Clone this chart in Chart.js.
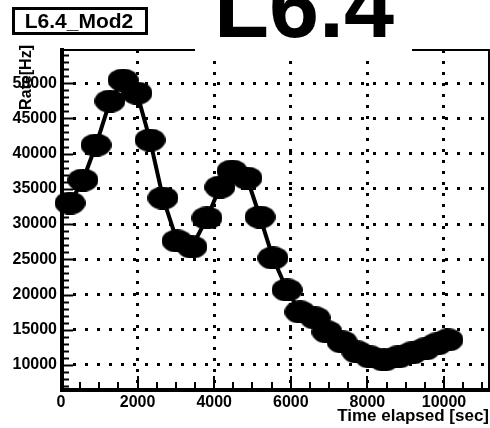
<!DOCTYPE html>
<html>
<head>
<meta charset="utf-8">
<script src="https://cdn.jsdelivr.net/npm/chart.js@4/dist/chart.umd.min.js"></script>
<style>
  html, body { margin: 0; padding: 0; background: #fff; }
  #wrap { width: 490px; height: 428px; }
</style>
</head>
<body>
<div id="wrap"><canvas id="rate" width="490" height="428"></canvas></div>
<script>
// values
const timeSec = [235, 574, 914, 1279, 1619, 1984, 2324, 2663, 3029, 3420,
  3812, 4151, 4465, 4856, 5196, 5535, 5901, 6240, 6632, 6945,
  7337, 7728, 8068, 8433, 8799, 9164, 9504, 9817, 10104];
const rateHz = [32980, 36245, 41210, 47450, 50430, 48580, 41920, 33690, 27600, 26750,
  30860, 35250, 37520, 36530, 31000, 25185, 20650, 17530, 16680, 14700,
  13280, 11860, 11150, 10720, 11150, 11710, 12280, 12990, 13560];

const xTicks = [0, 2000, 4000, 6000, 8000, 10000];
const yTicks = [10000, 15000, 20000, 25000, 30000, 35000, 40000, 45000, 50000];

const FONT = '"Liberation Sans", Arial, Helvetica, sans-serif';

// ROOT-like fat ellipse marker
function ellipseMarker(w, h) {
  const c = document.createElement('canvas');
  c.width = w;
  c.height = h;
  const g = c.getContext('2d');
  g.fillStyle = '#000';
  g.beginPath();
  g.ellipse(w / 2, h / 2, w / 2, h / 2, 0, 0, Math.PI * 2);
  g.fill();
  return c;
}

// frame, small ticks and the texts around the pad
const rootFrame = {
  id: 'rootFrame',
  afterDraw(chart) {
    const { ctx, chartArea: a, scales: { x, y } } = chart;
    ctx.save();
    ctx.strokeStyle = '#000';
    ctx.fillStyle = '#000';

    ctx.lineWidth = 2;
    ctx.beginPath();
    ctx.moveTo(a.left, a.top);
    ctx.lineTo(a.right, a.top);
    ctx.lineTo(a.right, a.bottom);
    ctx.stroke();
    ctx.lineWidth = 4;
    ctx.beginPath();
    ctx.moveTo(a.left + 1, a.top - 2);
    ctx.lineTo(a.left + 1, a.bottom);
    ctx.lineTo(a.right + 1, a.bottom);
    ctx.stroke();

    // ticks
    ctx.lineWidth = 2;
    ctx.beginPath();
    for (let v = 7000; v <= 54000; v += 1000) {
      const py = Math.round(y.getPixelForValue(v)) + 0.5;
      const len = v % 5000 === 0 ? 9 : 5;
      ctx.moveTo(a.left + 3, py);
      ctx.lineTo(a.left + 3 + len, py);
    }
    for (let v = 500; v <= 11000; v += 500) {
      const px = Math.round(x.getPixelForValue(v));
      const len = v % 2000 === 0 ? 12 : 6;
      ctx.moveTo(px, a.bottom - 2);
      ctx.lineTo(px, a.bottom - 2 - len);
    }
    ctx.stroke();

    // big title on a white patch
    ctx.fillStyle = '#fff';
    ctx.fillRect(195, 0, 217, 56);
    ctx.fillStyle = '#000';
    ctx.font = 'bold 90px ' + FONT;
    ctx.textAlign = 'center';
    ctx.textBaseline = 'alphabetic';
    ctx.fillText('L6.4', 304, 37);

    // stats-like label box
    ctx.lineWidth = 3;
    ctx.strokeRect(13.5, 8.5, 133, 25);
    ctx.font = 'bold 21px ' + FONT;
    ctx.fillText('L6.4_Mod2', 79, 28);

    // y title, sitting over the tick labels like in ROOT
    ctx.translate(27, 45);
    ctx.rotate(-Math.PI / 2);
    ctx.font = 'bold 16px ' + FONT;
    ctx.textAlign = 'right';
    ctx.textBaseline = 'middle';
    ctx.fillText('Rate[Hz]', 0, 0);
    ctx.restore();
  }
};

const plain = v => String(v);

new Chart(document.getElementById('rate'), {
  type: 'line',
  data: {
    datasets: [{
      data: timeSec.map((t, i) => ({ x: t, y: rateHz[i] })),
      borderColor: '#000',
      borderWidth: 4,
      pointStyle: ellipseMarker(31, 23),
      pointRadius: 16,
      tension: 0,
      fill: false,
      clip: false
    }]
  },
  options: {
    responsive: false,
    animation: false,
    devicePixelRatio: 1,
    layout: { autoPadding: false, padding: { top: 50, right: 1, left: 0, bottom: 0 } },
    plugins: {
      legend: { display: false },
      tooltip: { enabled: false }
    },
    scales: {
      x: {
        type: 'linear',
        min: 0,
        max: 11175,
        afterBuildTicks: s => { s.ticks = xTicks.map(v => ({ value: v })); },
        afterFit: s => {
          s.height = 38;
          s.paddingLeft = 0;
          s.paddingRight = 0;
        },
        grid: { color: '#000', lineWidth: 3, drawTicks: false },
        border: { display: false, dash: [3, 8] },
        ticks: {
          color: '#000',
          padding: 3,
          callback: plain,
          font: { family: FONT, size: 16, weight: 'bold' }
        },
        title: {
          display: true,
          text: 'Time elapsed [sec]',
          align: 'end',
          color: '#000',
          padding: { top: 0, bottom: 1 },
          font: { family: FONT, size: 17, weight: 'bold' }
        }
      },
      y: {
        type: 'linear',
        min: 6450,
        max: 54700,
        afterBuildTicks: s => { s.ticks = yTicks.map(v => ({ value: v })); },
        afterFit: s => {
          s.width = 61;
          s.paddingTop = 0;
          s.paddingBottom = 0;
        },
        grid: { color: '#000', lineWidth: 3, drawTicks: false },
        border: { display: false, dash: [3, 9] },
        ticks: {
          color: '#000',
          padding: 4,
          callback: plain,
          font: { family: FONT, size: 16, weight: 'bold' }
        }
      }
    }
  },
  plugins: [rootFrame]
});
</script>
</body>
</html>
